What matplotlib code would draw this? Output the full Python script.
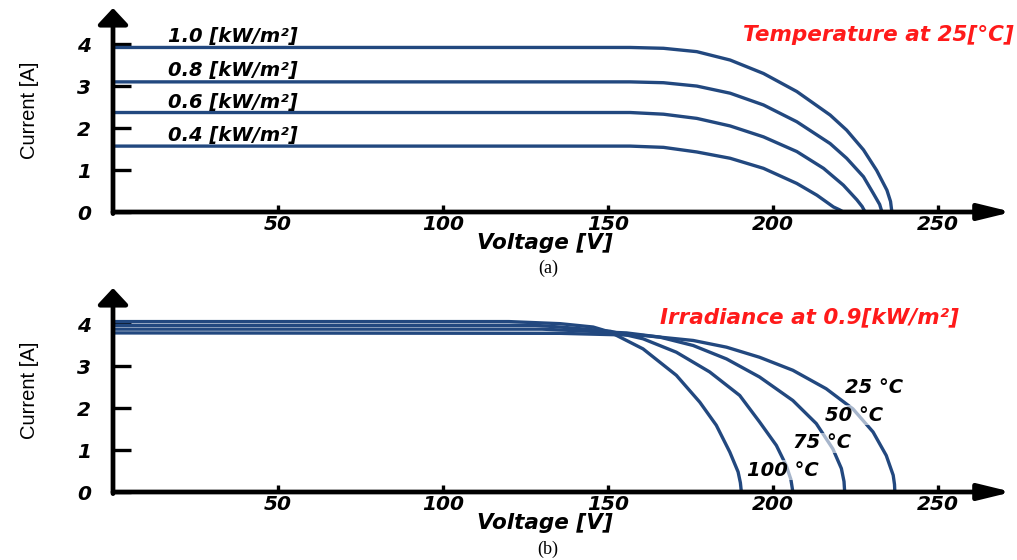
import matplotlib
matplotlib.use("Agg")
import matplotlib.pyplot as plt

# ---------------- data ----------------
# (a) irradiance sweep at 25 C
v_10 = [0, 140.0, 156.7, 166.8, 176.9, 187.0, 197.1, 207.2, 217.3, 222.3, 227.4, 231.4, 234.5, 235.6, 236.0]
i_10 = [3.92, 3.92, 3.92, 3.90, 3.82, 3.62, 3.30, 2.87, 2.31, 1.95, 1.48, 0.99, 0.52, 0.25, 0.0]
v_08 = [0, 140.0, 156.7, 166.8, 176.9, 187.0, 197.1, 207.2, 217.3, 222.3, 227.4, 230.4, 232.3, 233.0]
i_08 = [3.10, 3.10, 3.10, 3.08, 3.00, 2.83, 2.55, 2.15, 1.63, 1.28, 0.84, 0.44, 0.18, 0.0]
v_06 = [0, 140.0, 156.7, 166.8, 176.9, 187.0, 197.1, 207.2, 215.3, 221.3, 225.4, 227.0, 227.9]
i_06 = [2.37, 2.37, 2.37, 2.33, 2.23, 2.05, 1.79, 1.44, 1.04, 0.64, 0.29, 0.13, 0.0]
v_04 = [0, 140.0, 156.7, 166.8, 176.9, 187.0, 197.1, 207.2, 213.3, 218.3, 220.2, 221.3]
i_04 = [1.57, 1.57, 1.57, 1.54, 1.43, 1.28, 1.04, 0.68, 0.40, 0.12, 0.05, 0.0]
irr_labels = ["1.0 [kW/m²]", "0.8 [kW/m²]", "0.6 [kW/m²]", "0.4 [kW/m²]"]
irr_label_y = [4.17, 3.36, 2.62, 1.83]

# (b) temperature sweep at 0.9 kW/m2
v_100 = [0, 120.0, 135.5, 145.5, 150.6, 160.6, 170.7, 177.8, 182.8, 186.9, 189.4, 190.1, 190.4]
i_100 = [4.06, 4.06, 4.01, 3.93, 3.81, 3.41, 2.78, 2.14, 1.59, 0.95, 0.48, 0.22, 0.0]
v_75 = [0, 128.0, 135.5, 150.6, 160.6, 170.7, 180.8, 189.9, 195.9, 201.0, 204.0, 205.4, 206.0]
i_75 = [3.97, 3.97, 3.93, 3.83, 3.65, 3.33, 2.86, 2.30, 1.67, 1.11, 0.63, 0.30, 0.0]
v_50 = [0, 130.0, 135.5, 155.6, 165.7, 175.8, 185.9, 195.9, 206.0, 213.1, 218.1, 220.7, 221.5, 221.7]
i_50 = [3.88, 3.88, 3.86, 3.79, 3.69, 3.49, 3.17, 2.74, 2.18, 1.63, 1.03, 0.56, 0.25, 0.0]
v_25 = [0, 135.5, 160.6, 175.8, 185.9, 195.9, 206.0, 216.1, 224.2, 230.3, 234.3, 236.4, 236.8, 236.9]
i_25 = [3.79, 3.78, 3.73, 3.61, 3.45, 3.21, 2.90, 2.46, 1.98, 1.43, 0.87, 0.40, 0.18, 0.0]
temp_labels = ["25 °C", "50 °C", "75 °C", "100 °C"]
temp_label_x = [221.8, 215.8, 206.1, 192.1]
temp_label_y = [2.50, 1.83, 1.17, 0.52]

x_ticks = [50, 100, 150, 200, 250]
y_ticks = [0, 1, 2, 3, 4]

# ---------------- style ----------------
W, H = 1017, 560
fig = plt.figure(figsize=(W / 100, H / 100), dpi=100)
line_color = "#22487f"
bold_it = dict(family="DejaVu Sans", weight="bold", style="italic")
tick_font = dict(size=14.5, **bold_it)
label_font = dict(size=14, **bold_it)
red_font = dict(size=15.5, color="#ff1a1a", **bold_it)


def make_axes(y0_px):
    left = 113 / W
    right = 1012 / W
    bottom = (H - y0_px) / H
    top = (H - (y0_px - 204)) / H
    ax = fig.add_axes([left, bottom, right - left, top - bottom])
    ax.set_xlim(0, 272.4)
    ax.set_ylim(0, 4.86)
    for s in ax.spines.values():
        s.set_visible(False)
    ax.annotate("", xy=(1, 0), xytext=(0, 0), xycoords="axes fraction",
                arrowprops=dict(arrowstyle="-|>,head_length=0.9,head_width=0.22",
                                lw=3.4, color="black", shrinkA=0, shrinkB=0,
                                mutation_scale=22))
    ax.annotate("", xy=(0, 1), xytext=(0, -0.008), xycoords="axes fraction",
                arrowprops=dict(arrowstyle="-|>,head_length=0.45,head_width=0.42",
                                lw=3.4, color="black", shrinkA=0, shrinkB=0,
                                mutation_scale=22))
    ax.set_xticks(x_ticks)
    ax.set_yticks(y_ticks)
    ax.set_xticklabels([str(t) for t in x_ticks], fontdict=tick_font)
    ax.set_yticklabels([str(t) for t in y_ticks], fontdict=tick_font)
    ax.tick_params(axis="y", direction="in", length=13, width=2.4, pad=16)
    ax.tick_params(axis="x", direction="in", length=5, width=2.4, pad=2)
    ax.set_xlabel("Voltage [V]", size=15.5, labelpad=0, **bold_it)
    ax.xaxis.set_label_coords(0.48, -0.105)
    ax.set_ylabel("Current [A]", family=["Liberation Sans Narrow", "Liberation Sans"],
                  size=14.5, labelpad=0)
    ax.yaxis.set_label_coords(-0.082, 0.50)
    ax.patch.set_visible(False)
    return ax


# ---------- panel (a) ----------
ax1 = make_axes(212)
for v, i in [(v_10, i_10), (v_08, i_08), (v_06, i_06), (v_04, i_04)]:
    ax1.plot(v, i, color=line_color, lw=2.4, solid_capstyle="butt",
             solid_joinstyle="round", clip_on=False)
for lab, y in zip(irr_labels, irr_label_y):
    ax1.text(16.7, y, lab, ha="left", va="center", **label_font)
ax1.text(273.0, 4.21, "Temperature at 25[°C]", ha="right", va="center", **red_font)
fig.text(548 / W, 1 - 268 / H, "(a)", ha="center", va="center",
         family="Liberation Serif", size=13)

# ---------- panel (b) ----------
ax2 = make_axes(492)
for v, i in [(v_100, i_100), (v_75, i_75), (v_50, i_50), (v_25, i_25)]:
    ax2.plot(v, i, color=line_color, lw=2.4, solid_capstyle="butt",
             solid_joinstyle="round", clip_on=False)
for lab, x, y in zip(temp_labels, temp_label_x, temp_label_y):
    ax2.text(x, y, lab, ha="left", va="center", zorder=5,
             bbox=dict(facecolor="white", edgecolor="none", pad=0.3, alpha=0.6),
             **label_font)
ax2.text(165.8, 4.17, "Irradiance at 0.9[kW/m²]", ha="left", va="center", **red_font)
fig.text(548 / W, 1 - 549 / H, "(b)", ha="center", va="center",
         family="Liberation Serif", size=13)

fig.savefig("out.png", dpi=100)
